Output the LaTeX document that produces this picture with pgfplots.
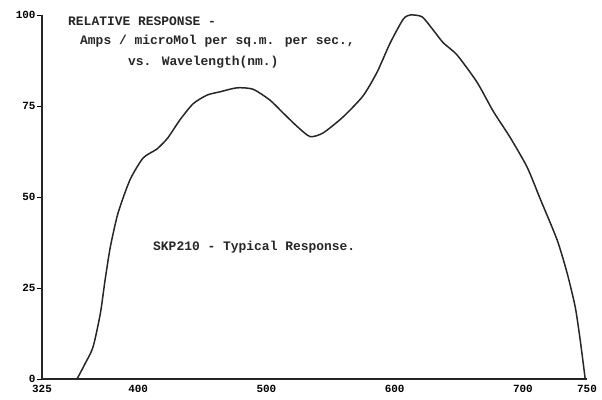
\documentclass[border=0pt]{standalone}
\usepackage{fontspec}
\setmainfont{Liberation Mono}
\setmonofont{Liberation Mono}
\usepackage{pgfplots}
\pgfplotsset{compat=1.18}
\begin{document}
\begin{tikzpicture}
\useasboundingbox (-42bp,-21bp) rectangle (560bp,379bp);
\begin{axis}[
  scale only axis,
  width=545bp, height=364bp,
  xmin=325, xmax=750, ymin=0, ymax=100,
  axis lines=left,
  axis line style={-, line width=1.2pt, black!85},
  xtick={325,400,500,600,700,750},
  ytick={0,25,50,75,100},
  tick align=outside,
  major tick length=5bp,
  xtick style={draw=none},
  ytick style={line width=0.8pt, black},
  /pgf/number format/assume math mode=true,
  /pgf/number format/1000 sep={},
  ticklabel style={font=\bfseries\fontsize{11}{11}\selectfont},
  xticklabel style={yshift=2bp},
  yticklabel style={xshift=2bp},
  clip=false,
]
\addplot[black!85, line width=1.5pt, smooth, tension=0.4] coordinates {
(352.3,0) (358,3.8) (364.8,8.8) (370.5,18.0) (374.2,27.2) (378.3,36.3)
(384.3,45.6) (393.6,54.7) (403.8,60.7) (414.7,63.2) (423,66.2)
(432.6,71.2) (442.8,75.6) (453.7,78.0) (463.8,78.9) (477.1,80.0)
(489.6,79.6) (502.8,76.6) (513.0,73.1) (523.9,69.4) (534.0,66.6)
(544.2,67.6) (559.8,72.0) (575.4,77.8) (586.3,84.3) (596.5,92.3)
(606.6,98.8) (612.1,100) (621.4,99.5) (630.0,95.9) (637.8,92.4)
(648.7,89.0) (664.3,81.5) (676.8,73.6) (690.0,66.4) (703.3,58.2)
(713.5,49.5) (726.7,38.2) (734.5,29.1) (740.8,19.8) (744.7,10.7)
(748.6,0)
};
\end{axis}
\begin{scope}[font=\bfseries\fontsize{13}{13}\selectfont, black!85]
\node[anchor=west, inner sep=0pt] at (26bp,358bp) {RELATIVE RESPONSE -};
\node[anchor=west, inner sep=0pt] at (38bp,338bp) {Amps / microMol per sq.m. per sec.,};
\node[anchor=west, inner sep=0pt] at (86bp,317bp) {vs. Wavelength(nm.)};
\node[anchor=west, inner sep=0pt] at (111bp,132bp) {SKP210 - Typical Response.};
\end{scope}
\end{tikzpicture}
\end{document}
